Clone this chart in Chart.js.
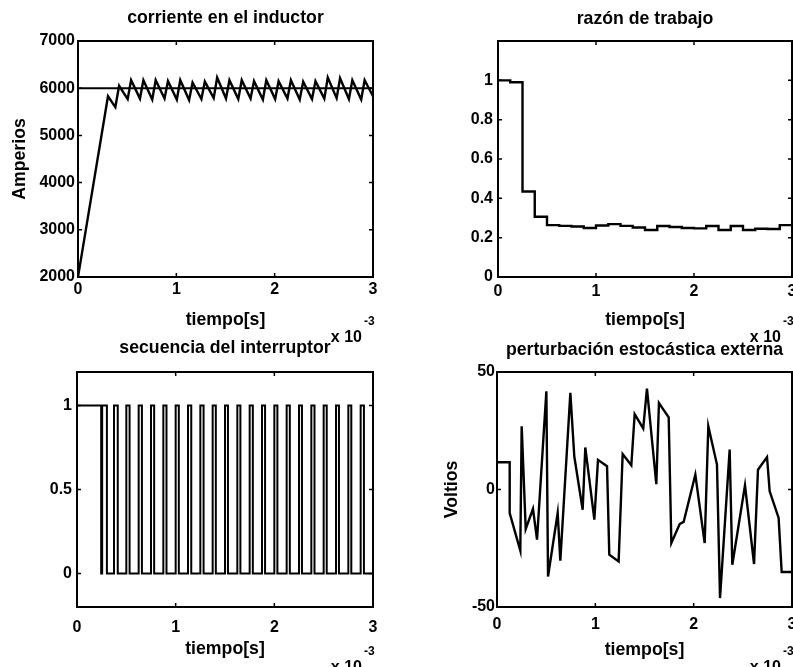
<!DOCTYPE html>
<html>
<head>
<meta charset="utf-8">
<script src="https://cdn.jsdelivr.net/npm/chart.js@4.4.1/dist/chart.umd.min.js"></script>
<style>
    html, body { margin: 0; padding: 0; background: #fff; }
    #wrap { position: relative; width: 793px; height: 667px; overflow: hidden; }
    #wrap canvas { position: absolute; }
</style>
</head>
<body>
<div id="wrap">
    <canvas id="c3" width="400" height="337" style="left:0;top:330px"></canvas>
    <canvas id="c4" width="410" height="337" style="left:400px;top:330px"></canvas>
    <canvas id="c1" width="400" height="345" style="left:0;top:0"></canvas>
    <canvas id="c2" width="410" height="345" style="left:400px;top:0"></canvas>
</div>
<script>
// time axis is in units of 1e-3 s
const timeTicks = [0, 1, 2, 3];

// corriente en el inductor (A)
const currentT = [0, 0.305, 0.38, 0.418, 0.505, 0.54, 0.63, 0.665, 0.755, 0.79, 0.88, 0.915,
    1.005, 1.04, 1.13, 1.165, 1.255, 1.29, 1.38, 1.415, 1.505, 1.54, 1.63, 1.665, 1.755, 1.79,
    1.88, 1.915, 2.005, 2.04, 2.13, 2.165, 2.255, 2.29, 2.38, 2.415, 2.505, 2.54, 2.63, 2.665,
    2.755, 2.79, 2.88, 2.915, 3.0];
const currentA = [2000, 5830, 5600, 6050, 5770, 6170, 5780, 6170, 5760, 6170, 5780, 6150,
    5760, 6170, 5750, 6120, 5770, 6140, 5790, 6225, 5780, 6170, 5770, 6170, 5780, 6150,
    5760, 6170, 5770, 6150, 5780, 6170, 5760, 6140, 5770, 6150, 5780, 6225, 5790, 6210,
    5770, 6170, 5760, 6170, 5830];
const currentRef = 6000;
const currentTicks = [2000, 3000, 4000, 5000, 6000, 7000];

// razón de trabajo
const dutyT = [0, 0.125, 0.25, 0.375, 0.5, 0.625, 0.75, 0.875, 1, 1.125, 1.25, 1.375,
    1.5, 1.625, 1.75, 1.875, 2, 2.125, 2.25, 2.375, 2.5, 2.625, 2.75, 2.875, 3];
const dutyV = [1.0, 0.99, 0.435, 0.306, 0.264, 0.26, 0.257, 0.249, 0.262, 0.269, 0.26, 0.252,
    0.239, 0.259, 0.254, 0.249, 0.247, 0.259, 0.239, 0.259, 0.239, 0.245, 0.244, 0.264, 0.264];
const dutyTicks = [0, 0.2, 0.4, 0.6, 0.8, 1];

// secuencia del interruptor: instants where the switch goes to 1 / back to 0
const switchRise = [0, 0.255, 0.375, 0.5, 0.625, 0.75, 0.875, 1.0, 1.125, 1.25, 1.375, 1.5,
    1.625, 1.75, 1.875, 2.0, 2.125, 2.25, 2.375, 2.5, 2.625, 2.75, 2.875];
const switchFall = [0.245, 0.303, 0.413, 0.533, 0.658, 0.782, 0.907, 1.032, 1.158, 1.283, 1.407, 1.53,
    1.656, 1.782, 1.906, 2.031, 2.157, 2.28, 2.407, 2.531, 2.655, 2.78, 2.908];
const switchTicks = [0, 0.5, 1];

// perturbación estocástica externa (V)
const noiseT = [0, 0.129, 0.129, 0.237, 0.251, 0.292, 0.366, 0.407, 0.502, 0.519, 0.617, 0.644,
    0.746, 0.786, 0.871, 0.898, 0.99, 1.027, 1.119, 1.142, 1.237, 1.278, 1.366, 1.40, 1.487,
    1.525, 1.62, 1.647, 1.746, 1.773, 1.858, 1.898, 2.017, 2.112, 2.149, 2.237, 2.268, 2.366,
    2.393, 2.522, 2.614, 2.654, 2.746, 2.773, 2.864, 2.895, 3.0];
const noiseV = [11.6, 11.6, -10, -26, 26.9, -16.8, -8.2, -21.3, 41.8, -37, -10, -30.3,
    41.1, 14.1, -8.6, 17.9, -12.8, 12.6, 9.9, -27.7, -30.6, 15.1, 10.3, 32.1, 26,
    42.9, 2.3, 36.8, 30.7, -22.8, -14.7, -13.8, 6.3, -22.8, 26.9, 10.6, -46.2, 17.0,
    -32, 1.8, -31.7, 8.4, 13.8, -0.8, -12.1, -35.1, -35.1];
const noiseTicks = [-50, 0, 50];

const FONT = '"Liberation Sans", Arial, Helvetica, sans-serif';

const pairs = (xs, ys) => xs.map((x, i) => ({ x: x, y: ys[i] }));

function switchPoints() {
    const pts = [{ x: 0, y: 1 }];
    switchRise.forEach((r, i) => {
        if (i > 0) {
            pts.push({ x: r, y: 0 });
            pts.push({ x: r, y: 1 });
        }
        pts.push({ x: switchFall[i], y: 1 });
        pts.push({ x: switchFall[i], y: 0 });
    });
    pts.push({ x: 3, y: 0 });
    return pts;
}

// MATLAB-like frame, inward ticks, panel title and the x 10^-3 factor
const matlabBox = {
    id: 'matlabBox',
    afterDraw(chart, args, opts) {
        const { ctx, chartArea: a } = chart;
        const xs = chart.scales.x, ys = chart.scales.y;
        ctx.save();
        ctx.strokeStyle = '#000';
        ctx.lineWidth = 2;
        ctx.strokeRect(a.left, a.top, a.right - a.left, a.bottom - a.top);

        ctx.lineWidth = 1.5;
        ctx.beginPath();
        xs.ticks.forEach(t => {
            const px = xs.getPixelForValue(t.value);
            ctx.moveTo(px, a.bottom); ctx.lineTo(px, a.bottom - 4);
            ctx.moveTo(px, a.top); ctx.lineTo(px, a.top + 4);
        });
        ys.ticks.forEach(t => {
            const py = ys.getPixelForValue(t.value);
            ctx.moveTo(a.left, py); ctx.lineTo(a.left + 4, py);
            ctx.moveTo(a.right, py); ctx.lineTo(a.right - 4, py);
        });
        ctx.stroke();

        ctx.fillStyle = '#000';
        ctx.font = 'bold 17.7px ' + FONT;
        ctx.textAlign = 'center';
        ctx.textBaseline = 'middle';
        ctx.fillText(opts.title, (a.left + a.right) / 2, opts.titleY);

        ctx.font = 'bold 16px ' + FONT;
        ctx.textAlign = 'right';
        ctx.textBaseline = 'alphabetic';
        ctx.fillText('x 10', a.right - 11, a.bottom + 65);
        ctx.font = 'bold 12px ' + FONT;
        ctx.textAlign = 'left';
        ctx.textBaseline = 'middle';
        ctx.fillText('-3', a.right - 9, a.bottom + 45);
        ctx.restore();
    }
};

function makePanel(id, cfg) {
    const tickFont = { family: FONT, size: 16, weight: 'bold' };
    const titleFont = { family: FONT, size: 17.7, weight: 'bold' };
    return new Chart(document.getElementById(id), {
        type: 'line',
        data: { datasets: cfg.datasets },
        plugins: [matlabBox],
        options: {
            responsive: false,
            animation: false,
            layout: { padding: { top: cfg.top, right: cfg.right, left: 0, bottom: 0 } },
            elements: { point: { radius: 0 }, line: { tension: 0 } },
            plugins: {
                legend: { display: false },
                tooltip: { enabled: false },
                matlabBox: { title: cfg.title, titleY: cfg.titleY }
            },
            scales: {
                x: {
                    type: 'linear', min: 0, max: 3,
                    afterBuildTicks: s => { s.ticks = timeTicks.map(v => ({ value: v })); },
                    afterFit: s => { s.height = cfg.xHeight; s.paddingLeft = 0; s.paddingRight = 0; },
                    grid: { display: false, drawTicks: false },
                    border: { display: false },
                    ticks: {
                        color: '#000', font: tickFont, padding: cfg.xPad,
                        autoSkip: false, maxRotation: 0, callback: v => String(v)
                    },
                    title: {
                        display: true, text: 'tiempo[s]', color: '#000', font: titleFont,
                        padding: { top: 0, bottom: cfg.xTitlePad }
                    }
                },
                y: {
                    type: 'linear', min: cfg.yMin, max: cfg.yMax,
                    afterBuildTicks: s => { s.ticks = cfg.yTicks.map(v => ({ value: v })); },
                    afterFit: s => { s.width = cfg.yWidth; s.paddingTop = 0; s.paddingBottom = 0; },
                    grid: { display: false, drawTicks: false },
                    border: { display: false },
                    ticks: {
                        color: '#000', font: tickFont, padding: cfg.yPad,
                        autoSkip: false, callback: v => String(v)
                    },
                    title: {
                        display: !!cfg.yTitle, text: cfg.yTitle || '', color: '#000', font: titleFont,
                        padding: { top: cfg.yTitlePad || 0, bottom: 0 }
                    }
                }
            }
        }
    });
}

const lineStyle = { borderColor: '#000', borderWidth: 2.4, fill: false };

makePanel('c1', {
    title: 'corriente en el inductor', titleY: 18,
    top: 41, right: 27, xHeight: 68, yWidth: 78,
    xPad: 3, yPad: 3, xTitlePad: 14,
    yMin: 2000, yMax: 7000, yTicks: currentTicks,
    yTitle: 'Amperios', yTitlePad: 9,
    datasets: [
        { ...lineStyle, borderWidth: 2, data: [{ x: 0, y: currentRef }, { x: 3, y: currentRef }] },
        { ...lineStyle, data: pairs(currentT, currentA) }
    ]
});

makePanel('c2', {
    title: 'razón de trabajo', titleY: 19,
    top: 41, right: 18, xHeight: 68, yWidth: 98,
    xPad: 5, yPad: 5, xTitlePad: 14,
    yMin: 0, yMax: 1.2, yTicks: dutyTicks,
    datasets: [
        { ...lineStyle, stepped: true, data: pairs(dutyT, dutyV) }
    ]
});

makePanel('c3', {
    title: 'secuencia del interruptor', titleY: 18,
    top: 42, right: 27, xHeight: 60, yWidth: 77,
    xPad: 11, yPad: 5, xTitlePad: 7,
    yMin: -0.2, yMax: 1.2, yTicks: switchTicks,
    datasets: [
        { ...lineStyle, borderWidth: 2, data: switchPoints() }
    ]
});

makePanel('c4', {
    title: 'perturbación estocástica externa', titleY: 20,
    top: 42, right: 18, xHeight: 60, yWidth: 97,
    xPad: 8, yPad: 2, xTitlePad: 6,
    yMin: -50, yMax: 50, yTicks: noiseTicks,
    yTitle: 'Voltios', yTitlePad: 41,
    datasets: [
        { ...lineStyle, data: pairs(noiseT, noiseV) }
    ]
});
</script>
</body>
</html>
